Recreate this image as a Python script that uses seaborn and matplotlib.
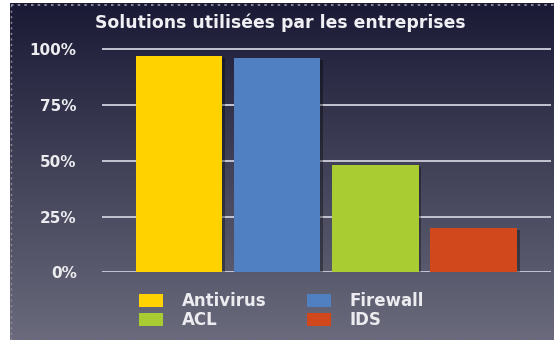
import numpy as np
import matplotlib
matplotlib.use("Agg")
import matplotlib.pyplot as plt
from matplotlib.patches import Patch
from matplotlib.lines import Line2D
import matplotlib.patheffects as pe
import seaborn as sns
import pandas as pd

# Data
categories = ["Antivirus", "Firewall", "ACL", "IDS"]
values = [0.97, 0.96, 0.48, 0.20]
colors = ["#FFD200", "#5080C2", "#AACC33", "#D0481C"]
tick_values = [0.0, 0.25, 0.50, 0.75, 1.0]
tick_labels = ["0%", "25%", "50%", "75%", "100%"]
title = "Solutions utilisées par les entreprises"

sns.set_theme(style="white")
plt.rcParams["font.family"] = ["DejaVu Sans"]

W, H = 554, 340
fig = plt.figure(figsize=(W / 100, H / 100), dpi=100, facecolor="white")

# Dark vertical gradient panel behind the chart
bg = fig.add_axes([10 / W, 0, 1 - 10 / W, 1 - 3 / H], zorder=-5)
top = np.array([26, 26, 54]) / 255
bot = np.array([106, 106, 124]) / 255
t = np.linspace(0, 1, 256)[:, None]
grad = top[None, :] * (1 - t) + bot[None, :] * t
bg.imshow(grad[:, None, :], aspect="auto", extent=[0, 1, 0, 1])
bg.set_axis_off()

# Dotted frame along the top and left of the panel
fig.add_artist(Line2D([10.5 / W, 1], [1 - 4.5 / H] * 2, transform=fig.transFigure,
                      color="#9a9aa8", lw=1.2, ls=(0, (1.5, 2.5))))
fig.add_artist(Line2D([11 / W] * 2, [0, 1 - 4 / H], transform=fig.transFigure,
                      color="#8a8a98", lw=1.0, ls=(0, (1.5, 2.5))))

# Plot area in pixel geometry
x0, x1 = 101.7, 551.0
y_zero, y_full = 272.3, 49.3
ymax = 1.03
unit = y_zero - y_full
y_top_px = y_zero - unit * ymax
ax = fig.add_axes([x0 / W, (H - y_zero) / H, (x1 - x0) / W, (y_zero - y_top_px) / H])
ax.set_facecolor("none")

df = pd.DataFrame({"solution": categories, "share": values})
sns.barplot(data=df, x="solution", y="share", hue="solution", palette=colors,
            width=0.88, legend=False, saturation=1, ax=ax, zorder=3)
for bar in ax.patches:
    bar.set_edgecolor("none")
    bar.set_path_effects([pe.SimplePatchShadow(offset=(2, -1.5), shadow_rgbFace="black", alpha=0.35),
                          pe.Normal()])

for v in tick_values:
    ax.axhline(v, color="#c4c4d2", lw=1.4, zorder=1)

ax.set_xlim(-0.787, 3.787)
ax.set_ylim(0, ymax)
ax.set_yticks(tick_values)
ax.set_yticklabels(tick_labels)
ax.set_xticks([])
ax.set_xlabel("")
ax.set_ylabel("")
ax.tick_params(axis="y", length=0, pad=18, labelsize=11, labelcolor="#ececf0")
for lab in ax.get_yticklabels():
    lab.set_fontweight("bold")
for s in ax.spines.values():
    s.set_visible(False)

fig.text(280 / W, 1 - 22.5 / H, title, ha="center", va="center",
         fontsize=12.4, fontweight="bold", color="#f0f0f4")

handles = [Patch(facecolor=c, edgecolor="none") for c in colors]
order = [0, 2, 1, 3]
leg = fig.legend([handles[i] for i in order], [categories[i] for i in order],
                 ncol=2, loc="upper left", bbox_to_anchor=(139 / W, 1 - 292 / H),
                 frameon=False, fontsize=12, handlelength=1.44, handleheight=0.84,
                 handletextpad=1.14, columnspacing=2.4, labelspacing=0.08,
                 borderpad=0, borderaxespad=0)
for txt in leg.get_texts():
    txt.set_color("#ececf0")
    txt.set_fontweight("bold")

fig.savefig("out.png", dpi=100, facecolor="white")
